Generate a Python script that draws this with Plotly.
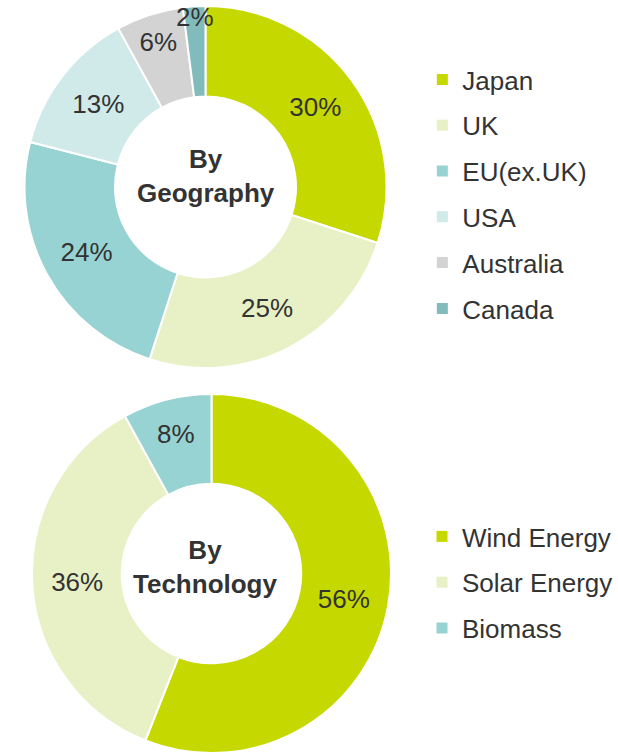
import plotly.graph_objects as go

geo_labels = ["Japan", "UK", "EU(ex.UK)", "USA", "Australia", "Canada"]
geo_values = [30, 25, 24, 13, 6, 2]
geo_colors = ["#c5d800", "#e8f0c6", "#96d3d2", "#d0eaea", "#d3d3d3", "#82bbbb"]

tech_labels = ["Wind Energy", "Solar Energy", "Biomass"]
tech_values = [56, 36, 8]
tech_colors = ["#c5d800", "#e8f0c6", "#96d3d2"]

FONT = "Liberation Sans, Arial, sans-serif"
TXT = "#333333"

W, H = 618, 756
geo_dom = dict(x=[24 / W, 387 / W], y=[1 - 368 / H, 1 - 6 / H])
tech_dom = dict(x=[31 / W, 392 / W], y=[1 - 753 / H, 1 - 394 / H])

fig = go.Figure()


def add_pie(labels, values, colors, dom):
    fig.add_trace(go.Pie(
        labels=labels, values=values, hole=0.5, sort=False,
        direction="clockwise", rotation=0, domain=dom,
        marker=dict(colors=colors, line=dict(color="white", width=2)),
        texttemplate="%{percent:.0%}", textposition="inside",
        insidetextorientation="horizontal",
        textfont=dict(family=FONT, size=26, color=TXT),
        showlegend=False, hoverinfo="label+percent",
    ))


def add_legend(labels, colors, legend):
    for lab, col in zip(labels, colors):
        fig.add_trace(go.Scatter(
            x=[None], y=[None], mode="markers", name=lab,
            marker=dict(symbol="square", size=11, color=col),
            legend=legend, legendgroup=legend + lab,
        ))


add_pie(geo_labels, geo_values, geo_colors, geo_dom)
add_pie(tech_labels, tech_values, tech_colors, tech_dom)
add_legend(geo_labels, geo_colors, "legend")
add_legend(tech_labels, tech_colors, "legend2")

leg = dict(font=dict(family=FONT, size=26, color=TXT), tracegroupgap=9,
           bgcolor="rgba(0,0,0,0)", xanchor="left", yanchor="top")

# centre captions sit a little above the hole centre in the original
for dom, word, dx, dy in [(geo_dom, "Geography", 0, 11),
                          (tech_dom, "Technology", -6, 7)]:
    fig.add_annotation(
        x=sum(dom["x"]) / 2, y=sum(dom["y"]) / 2, xref="paper", yref="paper",
        xanchor="center", yanchor="middle", xshift=dx, yshift=dy,
        text="<b>By<br>" + word + "</b>", showarrow=False,
        font=dict(family=FONT, size=26, color=TXT),
    )

fig.update_layout(
    width=W, height=H, margin=dict(l=0, r=0, t=0, b=0),
    paper_bgcolor="white", plot_bgcolor="white",
    xaxis=dict(visible=False), yaxis=dict(visible=False),
    uniformtext=dict(minsize=26, mode="show"),
    legend=dict(x=0.6834, y=1 - 56 / H, **leg),
    legend2=dict(x=0.6834, y=1 - 513 / H, **leg),
)

fig.write_html("out.html", config={"displayModeBar": False},
               post_script="document.body.style.margin = '0';")
